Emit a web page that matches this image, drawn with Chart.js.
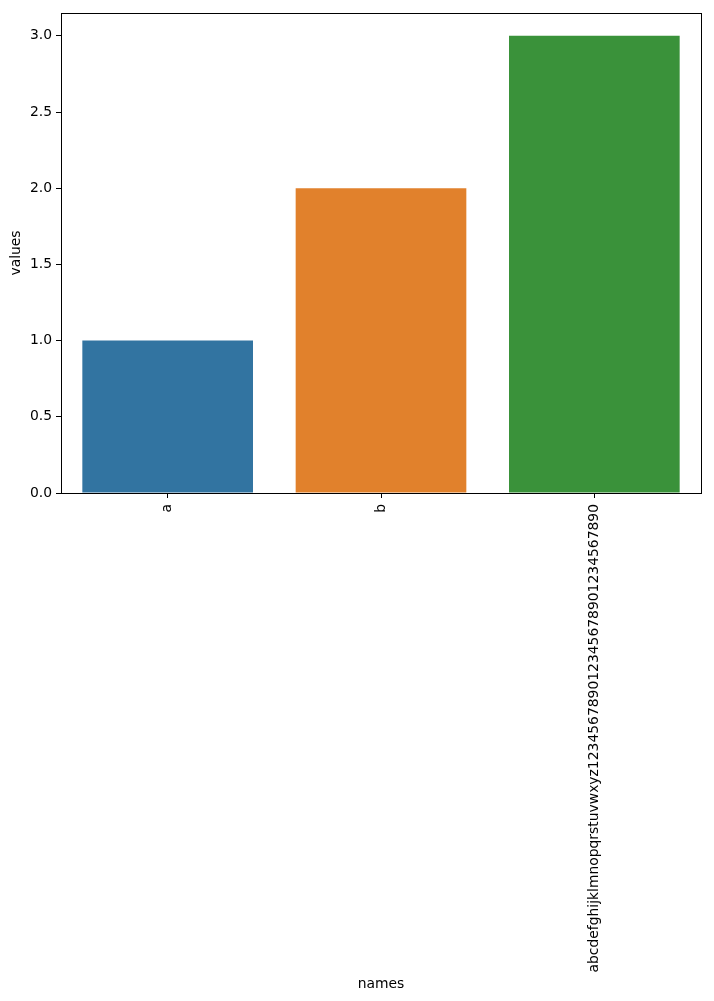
<!DOCTYPE html>
<html>
<head>
<meta charset="utf-8">
<script src="https://cdn.jsdelivr.net/npm/chart.js@4.4.0/dist/chart.umd.min.js"></script>
<style>
html,body{margin:0;padding:0;background:#fff;}
#wrap{width:714px;height:1001px;}
</style>
</head>
<body>
<div id="wrap"><canvas id="c" width="714" height="1001"></canvas></div>
<script>
const categories = ["a", "b", "abcdefghijklmnopqrstuvwxyz123456789012345678901234567890"];
const values = [1, 2, 3];
const barColors = ["#3274a1", "#e1812c", "#3a923a"];
const yTicks = [0, 0.5, 1.0, 1.5, 2.0, 2.5, 3.0];

const FONT = "'DejaVu Sans', sans-serif";
const frame = {
  id: 'frame',
  afterDatasetsDraw(chart) {
    const a = chart.chartArea, ctx = chart.ctx;
    ctx.save();
    ctx.strokeStyle = '#000';
    ctx.lineWidth = 1;
    ctx.strokeRect(Math.round(a.left) + 0.5, Math.round(a.top) + 0.5, Math.round(a.right - a.left), Math.round(a.bottom - a.top));
    ctx.restore();
  }
};

new Chart(document.getElementById('c'), {
  type: 'bar',
  data: {
    labels: categories,
    datasets: [{
      data: values,
      backgroundColor: barColors,
      borderWidth: 0,
      borderSkipped: false,
      inflateAmount: 0,
      categoryPercentage: 1.0,
      barPercentage: 0.8
    }]
  },
  options: {
    responsive: false,
    animation: false,
    devicePixelRatio: 1,
    layout: { padding: { top: 13, right: 13, left: 0, bottom: 0 } },
    plugins: { legend: { display: false }, tooltip: { enabled: false } },
    scales: {
      x: {
        grid: { drawOnChartArea: false, offset: false, color: '#000', tickColor: '#000', tickLength: 5 },
        border: { display: true, color: '#000', width: 1 },
        ticks: { color: '#000', font: { family: FONT, size: 13.9 }, minRotation: 90, maxRotation: 90, autoSkip: false, padding: 6 },
        title: { display: true, text: 'names', color: '#000', font: { family: FONT, size: 13.9 }, padding: { top: 4, bottom: 8 } },
        afterFit(scale) { scale.height = 508; }
      },
      y: {
        min: 0,
        max: 3.15,
        afterBuildTicks(scale) { scale.ticks = yTicks.map(v => ({ value: v })); },
        grid: { drawOnChartArea: false, color: '#000', tickColor: '#000', tickLength: 5 },
        border: { display: true, color: '#000', width: 1 },
        ticks: { color: '#000', font: { family: FONT, size: 13.9 }, padding: 4, callback: v => Number(v).toFixed(1) },
        title: { display: true, text: 'values', color: '#000', font: { family: FONT, size: 13.9 }, padding: { top: 8, bottom: 4 } },
        afterFit(scale) { scale.width = 61; }
      }
    }
  },
  plugins: [frame]
});
</script>
</body>
</html>
